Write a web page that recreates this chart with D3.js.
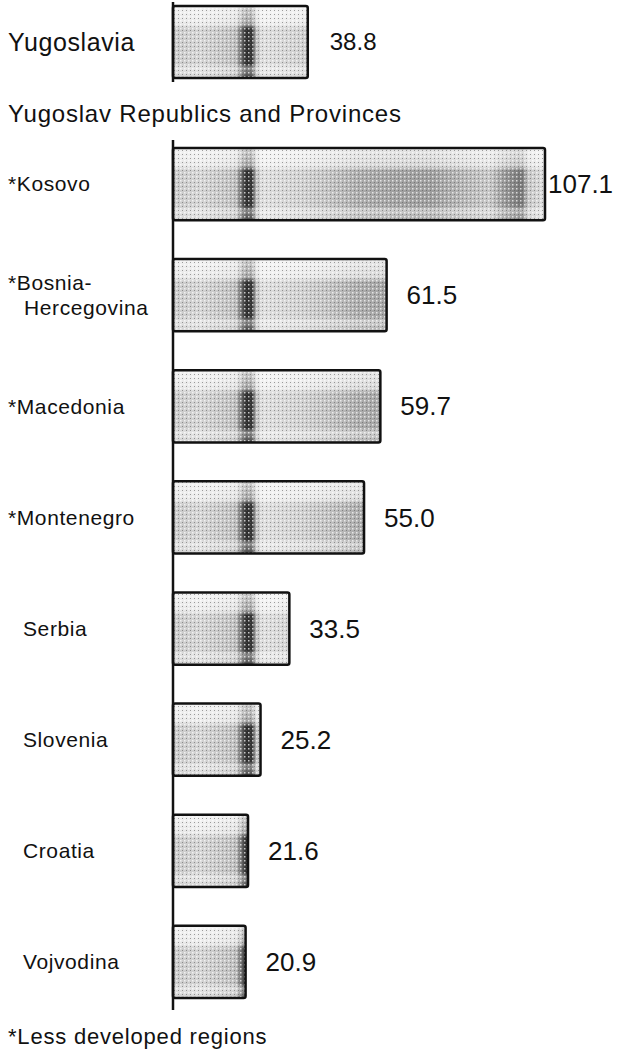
<!DOCTYPE html>
<html>
<head>
<meta charset="utf-8">
<script src="https://cdn.jsdelivr.net/npm/d3@7"></script>
<style>
  body { margin: 0; background: #fff; }
  text { font-family: "Liberation Sans", Arial, sans-serif; fill: #111; }
</style>
</head>
<body>
<svg width="620" height="1053"></svg>
<script>
var WIDTH = 620;
var HEIGHT = 1053;

// national figure
var nationName = 'Yugoslavia';
var nationValue = 38.8;

// republics and provinces
var regions = ['Kosovo', 'Bosnia-Hercegovina', 'Macedonia', 'Montenegro', 'Serbia', 'Slovenia', 'Croatia', 'Vojvodina'];
var regionLines = [['Kosovo'], ['Bosnia-', 'Hercegovina'], ['Macedonia'], ['Montenegro'], ['Serbia'], ['Slovenia'], ['Croatia'], ['Vojvodina']];
var values = [107.1, 61.5, 59.7, 55.0, 33.5, 25.2, 21.6, 20.9];
var lessDeveloped = [true, true, true, true, false, false, false, false];

var svg = d3.select('svg');
var defs = svg.append('defs');

// halftone-ish grey with the dark vertical streak seen in every bar
var grad = defs.append('linearGradient')
    .attr('id', 'shade')
    .attr('gradientUnits', 'userSpaceOnUse')
    .attr('x1', 173).attr('x2', 545).attr('y1', 0).attr('y2', 0);
var stops = [
    [173, '#c8c8c8'], [200, '#d4d4d4'], [236, '#bdbdbd'], [243, '#555'],
    [246, '#2e2e2e'], [252, '#363636'], [256, '#b8b8b8'], [262, '#dedede'],
    [300, '#d0d0d0'], [330, '#c0c0c0'], [360, '#aaaaaa'], [400, '#a0a0a0'],
    [430, '#9c9c9c'], [460, '#b2b2b2'], [490, '#c6c6c6'], [505, '#959595'],
    [522, '#747474'], [528, '#c4c4c4'], [545, '#dedede']
];
stops.forEach(function(s){
    grad.append('stop')
        .attr('offset', ((s[0] - 173) / (545 - 173)))
        .attr('stop-color', s[1]);
});

var vgrad = defs.append('linearGradient')
    .attr('id', 'fadeTop')
    .attr('x1', 0).attr('x2', 0).attr('y1', 0).attr('y2', 1);
vgrad.append('stop').attr('offset', 0).attr('stop-color', '#fff').attr('stop-opacity', 0.75);
vgrad.append('stop').attr('offset', 0.25).attr('stop-color', '#fff').attr('stop-opacity', 0.55);
vgrad.append('stop').attr('offset', 0.32).attr('stop-color', '#fff').attr('stop-opacity', 0);
vgrad.append('stop').attr('offset', 0.8).attr('stop-color', '#fff').attr('stop-opacity', 0);
vgrad.append('stop').attr('offset', 0.86).attr('stop-color', '#fff').attr('stop-opacity', 0.45);
vgrad.append('stop').attr('offset', 1).attr('stop-color', '#fff').attr('stop-opacity', 0.1);

var dots = defs.append('pattern')
    .attr('id', 'dots')
    .attr('patternUnits', 'userSpaceOnUse')
    .attr('width', 4).attr('height', 4);
dots.append('rect').attr('width', 4).attr('height', 4).attr('fill', 'none');
dots.append('rect').attr('x', 0).attr('y', 0).attr('width', 1.5).attr('height', 1.5).attr('fill', '#fff').attr('opacity', 0.7);
dots.append('rect').attr('x', 2).attr('y', 2).attr('width', 1).attr('height', 1).attr('fill', '#555').attr('opacity', 0.55);

var xScale = d3.scaleLinear()
    .domain([0, 107.1])
    .range([173, 545]);

var yScale = d3.scaleBand()
    .domain(regions)
    .range([148, 998])
    .paddingInner(0.35)
    .paddingOuter(0);

function drawBar(g, value, y, h) {
    var x0 = xScale(0), x1 = xScale(value);
    g.append('rect').attr('x', x0).attr('y', y).attr('width', x1 - x0).attr('height', h)
        .attr('fill', 'url(#shade)');
    g.append('rect').attr('x', x0).attr('y', y).attr('width', x1 - x0).attr('height', h)
        .attr('fill', 'url(#fadeTop)');
    g.append('rect').attr('x', x0).attr('y', y).attr('width', x1 - x0).attr('height', h)
        .attr('fill', 'url(#dots)');
    g.append('rect').attr('x', x0).attr('y', y).attr('width', x1 - x0).attr('height', h)
        .attr('rx', 2)
        .attr('fill', 'none')
        .attr('stroke', '#111')
        .attr('stroke-width', 2.5);
}

// top: Yugoslavia
var topG = svg.append('g');
drawBar(topG, nationValue, 6, 72);
topG.append('line')
    .attr('x1', xScale(0)).attr('x2', xScale(0))
    .attr('y1', 2).attr('y2', 82)
    .attr('stroke', '#111').attr('stroke-width', 2.5);
topG.append('text')
    .attr('x', 8).attr('y', 42)
    .attr('dy', '0.35em')
    .style('font-size', '25px')
    .style('letter-spacing', '0.6px')
    .text(nationName);
topG.append('text')
    .attr('x', xScale(nationValue) + 22).attr('y', 42)
    .attr('dy', '0.35em')
    .style('font-size', '24px')
    .text(nationValue.toFixed(1));

svg.append('text')
    .attr('x', 8).attr('y', 122)
    .style('font-size', '24px')
    .style('letter-spacing', '0.8px')
    .text('Yugoslav Republics and Provinces');

// bars
var bars = svg.append('g');
regions.forEach(function(r, i){
    var g = bars.append('g');
    var y = yScale(r);
    var h = yScale.bandwidth();
    drawBar(g, values[i], y, h);

    var cy = y + h / 2;
    var lines = regionLines[i];
    var lab = g.append('text')
        .style('font-size', '21px')
        .style('letter-spacing', '0.6px');
    lines.forEach(function(line, j){
        var t = (lessDeveloped[i] && j === 0 ? '*' : '') + line;
        lab.append('tspan')
            .attr('x', lessDeveloped[i] && j === 0 ? 8 : (lessDeveloped[i] ? 24 : 23))
            .attr('y', cy + (j - (lines.length - 1) / 2) * 25)
            .attr('dy', '0.35em')
            .text(t);
    });

    var vx = Math.min(xScale(values[i]) + 20, 548);
    g.append('text')
        .attr('x', vx).attr('y', cy)
        .attr('dy', '0.35em')
        .style('font-size', '26px')
        .text(values[i].toFixed(1));
});

// axis line
svg.append('line')
    .attr('x1', xScale(0)).attr('x2', xScale(0))
    .attr('y1', 140).attr('y2', 1010)
    .attr('stroke', '#111').attr('stroke-width', 2.5);

svg.append('text')
    .attr('x', 8).attr('y', 1044)
    .style('font-size', '22px')
    .style('letter-spacing', '0.8px')
    .text('*Less developed regions');
</script>
</body>
</html>
